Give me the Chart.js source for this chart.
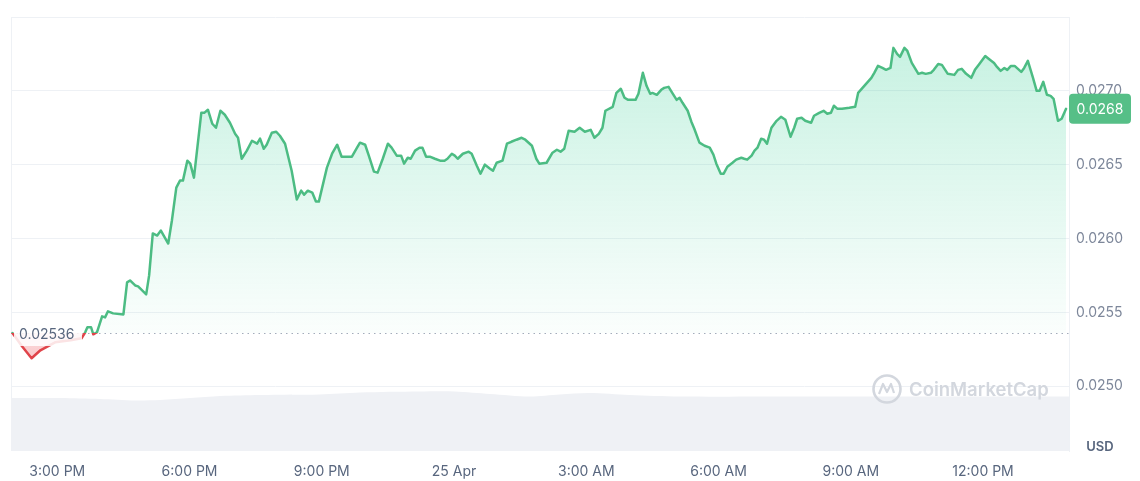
<!DOCTYPE html>
<html><head><meta charset="utf-8">
<script src="https://cdn.jsdelivr.net/npm/chart.js@4.4.1/dist/chart.umd.min.js"></script>
<style>html,body{margin:0;padding:0;background:#fff}#wrap{width:1140px;height:481px;position:relative}</style>
</head><body><div id="wrap"><canvas id="c"></canvas></div>
<script>
// minutes relative to 3:00 PM (24 Apr)
const times = [
-61,-48,-35,-23,-3,18,33,38,41,46,
49,54,61,65,69,76,90,95,99,106,
110,121,125,130,136,141,151,156,162,167,
171,177,181,186,196,200,205,211,216,222,
228,235,242,246,251,258,265,272,276,281,
285,292,298,303,310,319,326,332,336,341,
347,352,356,367,374,381,387,401,408,412,
419,424,431,436,443,450,455,462,468,472,
477,481,487,493,497,502,507,514,521,527,
531,537,541,545,552,560,564,571,576,582,
589,593,598,606,612,618,625,632,637,646,
652,656,666,674,680,685,690,696,704,711,
718,726,731,737,742,746,756,761,767,772,
777,787,791,797,802,807,810,816,822,826,
832,837,843,847,851,858,863,867,874,881,
888,893,897,903,907,912,919,924,931,935,
939,945,949,953,958,962,966,972,979,985,
991,998,1003,1007,1013,1018,1026,1030,1037,1043,
1048,1053,1057,1062,1068,1078,1086,1090,1096,1102,
1108,1112,1117,1123,1128,1134,1138,1143,1147,1153,
1157,1163,1172,1177,1182,1189,1193,1199,1204,1212,
1221,1226,1231,1237,1244,1249,1255,1259,1263,1268,
1275,1279,1284,1289,1293,1298,1303,1312,1316,1321,
1328,1333,1337,1342,1347,1352,1356,1362,1367,1373
];
const prices = [
0.02536,0.02527,0.025189,0.025243,0.025297,0.025311,0.025324,0.025365,0.025399,0.025399,
0.025351,0.025365,0.025473,0.025466,0.025507,0.025493,0.025486,0.025703,0.025716,0.025682,
0.025676,0.025622,0.02575,0.026034,0.02602,0.026054,0.025966,0.026122,0.026345,0.026392,
0.026392,0.026527,0.026507,0.026412,0.026851,0.026851,0.026872,0.026777,0.02675,0.026865,
0.026838,0.026784,0.026709,0.026682,0.02654,0.026595,0.026662,0.026642,0.026676,0.026608,
0.026635,0.026716,0.026723,0.026696,0.026642,0.026459,0.026264,0.026324,0.026297,0.026324,
0.026311,0.02625,0.02625,0.02648,0.026574,0.026635,0.026554,0.026554,0.026615,0.026649,
0.026635,0.026561,0.026453,0.026446,0.02654,0.026642,0.026615,0.026561,0.026561,0.026507,
0.026547,0.02654,0.026595,0.026615,0.026615,0.026554,0.026554,0.02654,0.026527,0.026527,
0.02654,0.026574,0.026561,0.02654,0.026574,0.026588,0.026574,0.026493,0.026439,0.0265,
0.026473,0.026459,0.026513,0.026527,0.026642,0.026655,0.026669,0.026682,0.026669,0.026628,
0.02654,0.026507,0.026513,0.026581,0.026601,0.026588,0.026608,0.02673,0.026723,0.02675,
0.026723,0.026736,0.026682,0.026709,0.02675,0.026865,0.026892,0.026986,0.027014,0.026953,
0.026939,0.026939,0.02698,0.027122,0.027034,0.02698,0.026986,0.026973,0.027007,0.02702,
0.027027,0.026986,0.026939,0.026953,0.026919,0.026865,0.026791,0.026743,0.026649,0.026628,
0.026615,0.026568,0.026507,0.026439,0.026439,0.026486,0.026513,0.026534,0.026547,0.02654,
0.026534,0.026561,0.026595,0.026615,0.026676,0.026669,0.026642,0.02675,0.026797,0.026824,
0.026804,0.026689,0.02675,0.026811,0.026818,0.026797,0.026784,0.026831,0.026851,0.026865,
0.026845,0.026851,0.026899,0.026878,0.026878,0.026885,0.026892,0.026986,0.02702,0.027054,
0.027088,0.027122,0.027169,0.027155,0.027142,0.027155,0.027291,0.02725,0.02723,0.027291,
0.02727,0.027189,0.027115,0.027122,0.027115,0.027122,0.027142,0.027182,0.027176,0.027115,
0.027108,0.027142,0.027149,0.027115,0.027088,0.027142,0.027182,0.027209,0.027236,0.027216,
0.027189,0.027162,0.027135,0.027155,0.027142,0.027169,0.027169,0.027128,0.027155,0.027203,
0.027088,0.027,0.027,0.027061,0.026973,0.026966,0.026946,0.026797,0.026811,0.026878
];
const volTimes  = [-63,4,58,106,140,181,222,276,357,412,493,541,589,643,684,724,779,847,1010,1214,1377];
const volValues = [5.3,5.3,5.2,5.05,5.1,5.3,5.5,5.6,5.65,5.85,5.95,5.95,5.7,5.45,5.65,5.8,5.6,5.45,5.45,5.45,5.45];
const baseline = 0.02536;
const tickMinutes = [0,180,360,540,720,900,1080,1260];
const tickLabels = ['3:00 PM','6:00 PM','9:00 PM','25 Apr','3:00 AM','6:00 AM','9:00 AM','12:00 PM'];
const yTicks = [0.0250,0.0255,0.0260,0.0265,0.0270,0.0275];
const xMin = -63, xMax = 1377;
const yMin = 0.024561, yMax = 0.0275;
const lastPrice = prices[prices.length-1];
const lastPriceLabel = (Math.floor(lastPrice*1e4)/1e4).toFixed(4);

const FONT = 'Inter, "Noto Sans", sans-serif';
const GREEN = '#4cbc83', RED = '#e0444a';

function lineGrad(chart){
  const {ctx, chartArea, scales} = chart;
  if(!chartArea) return GREEN;
  const yb = scales.y.getPixelForValue(baseline);
  const s = Math.min(1, Math.max(0, (yb - chartArea.top)/(chartArea.bottom - chartArea.top)));
  const g = ctx.createLinearGradient(0, chartArea.top, 0, chartArea.bottom);
  g.addColorStop(0, GREEN); g.addColorStop(s, GREEN);
  g.addColorStop(s, RED); g.addColorStop(1, RED);
  return g;
}
function fillGrad(chart){
  const {ctx, chartArea, scales} = chart;
  if(!chartArea) return 'rgba(22,199,132,0.1)';
  const yb = scales.y.getPixelForValue(baseline);
  const s = Math.min(1, Math.max(0, (yb - chartArea.top)/(chartArea.bottom - chartArea.top)));
  const g = ctx.createLinearGradient(0, chartArea.top, 0, chartArea.bottom);
  g.addColorStop(0, 'rgba(22,199,132,0.26)');
  g.addColorStop(s, 'rgba(22,199,132,0.02)');
  g.addColorStop(s, 'rgba(234,57,67,0.2)');
  g.addColorStop(1, 'rgba(234,57,67,0.5)');
  return g;
}

const decor = {
  id: 'decor',
  beforeDatasetsDraw(chart){
    const {ctx, chartArea: a, scales} = chart;
    ctx.save();
    ctx.strokeStyle = '#eef1f5'; ctx.lineWidth = 1;
    ctx.beginPath(); ctx.moveTo(a.left + 0.5, a.top); ctx.lineTo(a.left + 0.5, a.bottom); ctx.stroke();
    const yb = Math.round(scales.y.getPixelForValue(baseline)) + 0.5;
    ctx.strokeStyle = '#a3acbb'; ctx.setLineDash([1.5, 4]);
    ctx.beginPath(); ctx.moveTo(a.left, yb); ctx.lineTo(a.right, yb); ctx.stroke();
    ctx.restore();
  },
  afterDatasetsDraw(chart){
    const {ctx, chartArea: a, scales} = chart;
    ctx.save();
    // watermark
    const cx = a.right - 182, cy = a.bottom - 62;
    ctx.strokeStyle = '#d3d7de'; ctx.lineWidth = 2.6;
    ctx.beginPath(); ctx.arc(cx, cy, 13.5, 0, Math.PI*2); ctx.stroke();
    ctx.lineWidth = 2.2; ctx.lineJoin = 'round';
    ctx.beginPath(); ctx.moveTo(cx-8, cy+5); ctx.lineTo(cx-4, cy-5); ctx.lineTo(cx, cy+3);
    ctx.lineTo(cx+4, cy-5); ctx.lineTo(cx+7, cy+4); ctx.stroke();
    ctx.fillStyle = '#d3d7de'; ctx.font = '600 18.5px ' + FONT;
    ctx.textAlign = 'left'; ctx.textBaseline = 'middle';
    ctx.fillText('CoinMarketCap', cx + 22, cy + 1);
    // baseline label
    const yb = scales.y.getPixelForValue(baseline);
    ctx.fillStyle = 'rgba(255,255,255,0.85)';
    ctx.fillRect(a.left + 3, yb - 11, 68, 24);
    ctx.fillStyle = '#58667e'; ctx.font = '14px ' + FONT;
    ctx.fillText(baseline.toFixed(5), a.left + 8, yb + 2);
    // last price badge
    const yl = scales.y.getPixelForValue(lastPrice);
    ctx.fillStyle = '#56bf87';
    ctx.beginPath(); ctx.roundRect(a.right, yl - 15, 62, 30, 4); ctx.fill();
    ctx.fillStyle = '#ffffff'; ctx.textAlign = 'center'; ctx.font = '14px ' + FONT;
    ctx.fillText(lastPriceLabel, a.right + 31, yl + 1);
    // USD
    ctx.fillStyle = '#58667e'; ctx.font = '600 13px ' + FONT;
    ctx.fillText('USD', a.right + 31, a.bottom - 4);
    ctx.restore();
  }
};

new Chart(document.getElementById('c'), {
  type: 'line',
  data: {
    datasets: [
      {
        label: 'Price',
        data: times.map((t, i) => ({x: t, y: prices[i]})),
        yAxisID: 'y', order: 1,
        borderWidth: 2.5, pointRadius: 0, tension: 0,
        borderJoinStyle: 'round', borderCapStyle: 'round',
        borderColor: ctx => lineGrad(ctx.chart),
        backgroundColor: ctx => fillGrad(ctx.chart),
        fill: {target: {value: baseline}}
      },
      {
        label: 'Volume',
        data: volTimes.map((t, i) => ({x: t, y: volValues[i]})),
        yAxisID: 'y2', order: 2,
        borderWidth: 0, pointRadius: 0, tension: 0.3,
        borderColor: 'rgba(0,0,0,0)',
        backgroundColor: '#eff1f5',
        fill: 'origin'
      }
    ]
  },
  options: {
    responsive: true, maintainAspectRatio: false, animation: false,
    layout: {padding: {left: 11, top: 17, right: 0, bottom: 0}},
    plugins: {legend: {display: false}, tooltip: {enabled: false}},
    scales: {
      x: {
        type: 'linear', min: xMin, max: xMax,
        grid: {display: false}, border: {display: false},
        afterBuildTicks: s => { s.ticks = tickMinutes.map(v => ({value: v})); },
        afterFit: s => { s.height = 30; },
        ticks: {
          padding: 4, maxRotation: 0, autoSkip: false,
          color: '#58667e', font: {family: FONT, size: 14},
          callback: (v, i) => tickLabels[i]
        }
      },
      y: {
        position: 'right', min: yMin, max: yMax,
        afterBuildTicks: s => { s.ticks = yTicks.map(v => ({value: v})); },
        afterFit: s => { s.width = 71; },
        grid: {color: '#eef1f5', drawTicks: false},
        border: {display: true, color: '#eef1f5'},
        ticks: {
          padding: 7, color: '#7d879a', font: {family: FONT, size: 14},
          callback: v => (v > 0.02749 ? '' : v.toFixed(4))
        }
      },
      y2: {display: false, min: 0, max: 43.4}
    }
  },
  plugins: [decor]
});
</script>
</body></html>
